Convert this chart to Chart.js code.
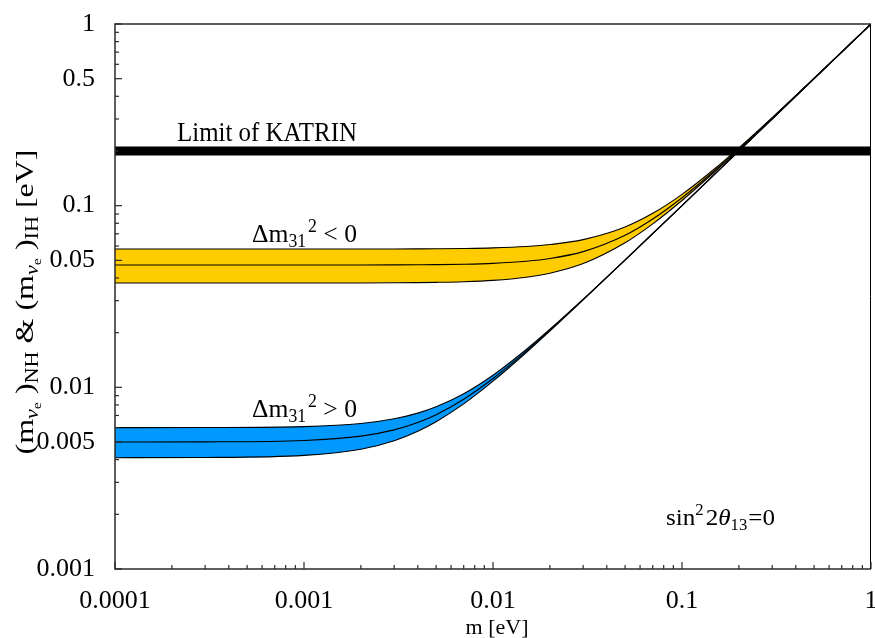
<!DOCTYPE html>
<html><head><meta charset="utf-8">
<script src="https://cdn.jsdelivr.net/npm/chart.js@4.4.1/dist/chart.umd.min.js"></script>
<style>html,body{margin:0;padding:0;background:#fff;overflow:hidden}#wrap{width:875px;height:638px}</style>
</head><body><div id="wrap"><canvas id="c" width="875" height="638"></canvas></div>
<script>
// lightest neutrino mass m [eV]
const massX = [0.0001, 0.0003, 0.001, 0.002, 0.003, 0.004, 0.005, 0.007, 0.01, 0.015, 0.02, 0.03, 0.05, 0.07, 0.1, 0.15, 0.2, 0.3, 0.5, 1];
// normal hierarchy (Δm31² > 0) band
const nhUpper   = [0.0060, 0.00601, 0.00608, 0.00632, 0.00671, 0.00721, 0.00781, 0.00922, 0.01166, 0.01616, 0.02088, 0.03059, 0.05036, 0.07026, 0.10018, 0.15012, 0.20009, 0.30006, 0.50004, 1.0];
const nhCentral = [0.0050, 0.00501, 0.00510, 0.00539, 0.00583, 0.00640, 0.00707, 0.00860, 0.01118, 0.01581, 0.02062, 0.03041, 0.05025, 0.07018, 0.10012, 0.15008, 0.20006, 0.30004, 0.50003, 1.0];
const nhLower   = [0.0041, 0.00411, 0.00422, 0.00456, 0.00508, 0.00573, 0.00647, 0.00811, 0.01081, 0.01555, 0.02042, 0.03028, 0.05017, 0.07012, 0.10008, 0.15006, 0.20004, 0.30003, 0.50002, 1.0];
// inverted hierarchy (Δm31² < 0) band
const ihUpper   = [0.0577, 0.0577, 0.05771, 0.05774, 0.05778, 0.05784, 0.05792, 0.05813, 0.05857, 0.05962, 0.06107, 0.06504, 0.07635, 0.09072, 0.11546, 0.16072, 0.20816, 0.30550, 0.50332, 1.0];
const ihCentral = [0.0471, 0.0471, 0.04711, 0.04714, 0.04719, 0.04727, 0.04736, 0.04761, 0.04815, 0.04943, 0.05117, 0.05584, 0.06869, 0.08437, 0.11053, 0.15722, 0.20547, 0.30368, 0.50221, 1.0];
const ihLower   = [0.0375, 0.0375, 0.03751, 0.03755, 0.03762, 0.03771, 0.03783, 0.03814, 0.03881, 0.04039, 0.04250, 0.04802, 0.06250, 0.07941, 0.10680, 0.15462, 0.20349, 0.30233, 0.50140, 1.0];
// KATRIN limit
const katrinX = [0.0001, 1];
const katrinY = [0.2, 0.2];
// ticks
const xMajorTicks = [0.0001, 0.001, 0.01, 0.1, 1];
const xTickLabels = ['0.0001', '0.001', '0.01', '0.1', '1'];
const yMajorTicks = [0.001, 0.005, 0.01, 0.05, 0.1, 0.5, 1];
const yTickLabels = ['0.001', '0.005', '0.01', '0.05', '0.1', '0.5', '1'];
const minorMultiples = [2, 3, 4, 5, 6, 7, 8, 9];

const YELLOW = '#FFCC00';
const BLUE = '#0099FF';

function allTicks(majors) {
  const out = [];
  const decades = majors.filter(v => Math.abs(Math.log10(v) - Math.round(Math.log10(v))) < 1e-9);
  decades.forEach((d, i) => {
    out.push(d);
    if (i < decades.length - 1) minorMultiples.forEach(k => out.push(+(d * k).toPrecision(6)));
  });
  return out;
}
const xAll = allTicks(xMajorTicks);
const yAll = allTicks(yMajorTicks);
const near = (a, b) => Math.abs(a - b) / b < 1e-6;
const pts = (xs, ys) => xs.map((x, i) => ({x, y: ys[i]}));

const lineDs = (data, extra) => Object.assign({
  data, borderColor: '#000', borderWidth: 1.1, pointRadius: 0, fill: false,
  cubicInterpolationMode: 'monotone'
}, extra || {});

const F = (size, style) => `${style || ''} ${size}px "Liberation Serif", "Times New Roman", serif`;

function drawRich(ctx, segs, x, y, align, targetW) {
  let w = 0;
  segs.forEach(s => { ctx.font = F(s.s, s.it ? 'italic' : ''); s.w = ctx.measureText(s.t).width; w += s.w + (s.gap || 0); });
  const sc = targetW ? targetW / w : 1;
  ctx.save();
  ctx.translate(x, y);
  ctx.scale(sc, 1);
  let cx = align === 'center' ? -w / 2 : 0;
  ctx.textBaseline = 'alphabetic';
  ctx.textAlign = 'left';
  ctx.fillStyle = '#000';
  segs.forEach(s => {
    ctx.font = F(s.s, s.it ? 'italic' : '');
    cx += (s.gap || 0);
    ctx.fillText(s.t, cx, s.dy || 0);
    cx += s.w;
  });
  ctx.restore();
}

const decor = {
  id: 'decor',
  afterDraw(chart) {
    const ctx = chart.ctx, a = chart.chartArea;
    const xs = chart.scales.x, ys = chart.scales.y;
    ctx.save();
    // frame
    ctx.strokeStyle = '#2a2a2a';
    ctx.lineWidth = 1.5;
    ctx.beginPath();
    ctx.moveTo(a.right, a.top); ctx.lineTo(a.left, a.top); ctx.lineTo(a.left, a.bottom); ctx.lineTo(a.right, a.bottom);
    ctx.stroke();
    ctx.lineWidth = 1;
    ctx.strokeStyle = '#000';
    ctx.beginPath(); ctx.moveTo(a.right - 0.5, a.top); ctx.lineTo(a.right - 0.5, a.bottom); ctx.stroke();
    // inward ticks
    ctx.lineWidth = 1.2;
    ctx.strokeStyle = '#2a2a2a';
    xs.ticks.forEach(t => {
      const px = xs.getPixelForValue(t.value);
      const len = xMajorTicks.some(m => near(t.value, m)) ? 7 : 4;
      ctx.beginPath(); ctx.moveTo(px, a.bottom); ctx.lineTo(px, a.bottom - len); ctx.stroke();
    });
    ys.ticks.forEach(t => {
      const py = ys.getPixelForValue(t.value);
      const len = yMajorTicks.some(m => near(t.value, m)) ? 7 : 4;
      ctx.beginPath(); ctx.moveTo(a.left, py); ctx.lineTo(a.left + len, py); ctx.stroke();
    });
    // annotations
    drawRich(ctx, [{t: 'Limit of KATRIN', s: 27}], 177, 140.5, 'left', 180);
    drawRich(ctx, [{t: 'Δm', s: 26}, {t: '31', s: 18, dy: 5}, {t: '2', s: 18, dy: -10, gap: 2}, {t: ' < 0', s: 26}], 252, 241.5, 'left', 105);
    drawRich(ctx, [{t: 'Δm', s: 26}, {t: '31', s: 18, dy: 5}, {t: '2', s: 18, dy: -10, gap: 2}, {t: ' > 0', s: 26}], 252, 416.5, 'left', 105);
    drawRich(ctx, [{t: 'sin', s: 24}, {t: '2', s: 16, dy: -10}, {t: '2', s: 24, gap: 2}, {t: 'θ', s: 24, it: true}, {t: '13', s: 16, dy: 5}, {t: '=0', s: 24, gap: 1}], 666, 525, 'left', 109);
    // axis titles
    drawRich(ctx, [{t: 'm [eV]', s: 22}], 497, 634, 'center');
    ctx.save();
    ctx.translate(33, 302);
    ctx.rotate(-Math.PI / 2);
    drawRich(ctx, [
      {t: '(m', s: 26}, {t: 'ν', s: 18, dy: 5, it: true}, {t: 'e', s: 13, dy: 8}, {t: ' )', s: 26}, {t: 'NH', s: 18, dy: 5},
      {t: ' & (m', s: 26}, {t: 'ν', s: 18, dy: 5, it: true}, {t: 'e', s: 13, dy: 8}, {t: ' )', s: 26}, {t: 'IH', s: 18, dy: 5},
      {t: ' [eV]', s: 26}
    ], 0, 0, 'center', 305);
    ctx.restore();
    ctx.restore();
  }
};

const zeroPad = s => { s.paddingLeft = 0; s.paddingRight = 0; s.paddingTop = 0; s.paddingBottom = 0; };

new Chart(document.getElementById('c'), {
  type: 'line',
  data: {
    datasets: [
      lineDs(pts(katrinX, katrinY), {borderWidth: 9, cubicInterpolationMode: 'default', tension: 0, borderCapStyle: 'butt'}),
      lineDs(pts(massX, ihCentral)),
      lineDs(pts(massX, ihLower)),
      lineDs(pts(massX, ihUpper), {fill: '-1', backgroundColor: YELLOW}),
      lineDs(pts(massX, nhCentral)),
      lineDs(pts(massX, nhLower)),
      lineDs(pts(massX, nhUpper), {fill: '-1', backgroundColor: BLUE})
    ]
  },
  options: {
    responsive: false,
    animation: false,
    events: [],
    layout: {padding: {left: 0, top: 24, right: 4, bottom: 0}, autoPadding: false},
    plugins: {legend: {display: false}, tooltip: {enabled: false}},
    scales: {
      x: {
        type: 'logarithmic', min: 0.0001, max: 1,
        grid: {display: false}, border: {display: false},
        afterBuildTicks: s => { s.ticks = xAll.map(v => ({value: v})); },
        afterFit: s => { s.height = 69; zeroPad(s); },
        ticks: {
          autoSkip: false, maxRotation: 0, padding: 9, color: '#000',
          font: {family: '"Liberation Serif", serif', size: 26},
          callback: v => { const i = xMajorTicks.findIndex(m => near(v, m)); return i >= 0 ? xTickLabels[i] : ''; }
        }
      },
      y: {
        type: 'logarithmic', min: 0.001, max: 1,
        grid: {display: false}, border: {display: false},
        afterBuildTicks: s => { s.ticks = yAll.map(v => ({value: v})); },
        afterFit: s => { s.width = 115; zeroPad(s); },
        ticks: {
          autoSkip: false, padding: 12, color: '#000',
          font: {family: '"Liberation Serif", serif', size: 26},
          callback: v => { const i = yMajorTicks.findIndex(m => near(v, m)); return i >= 0 ? yTickLabels[i] : ''; }
        }
      }
    }
  },
  plugins: [decor]
});
</script>
</body></html>
